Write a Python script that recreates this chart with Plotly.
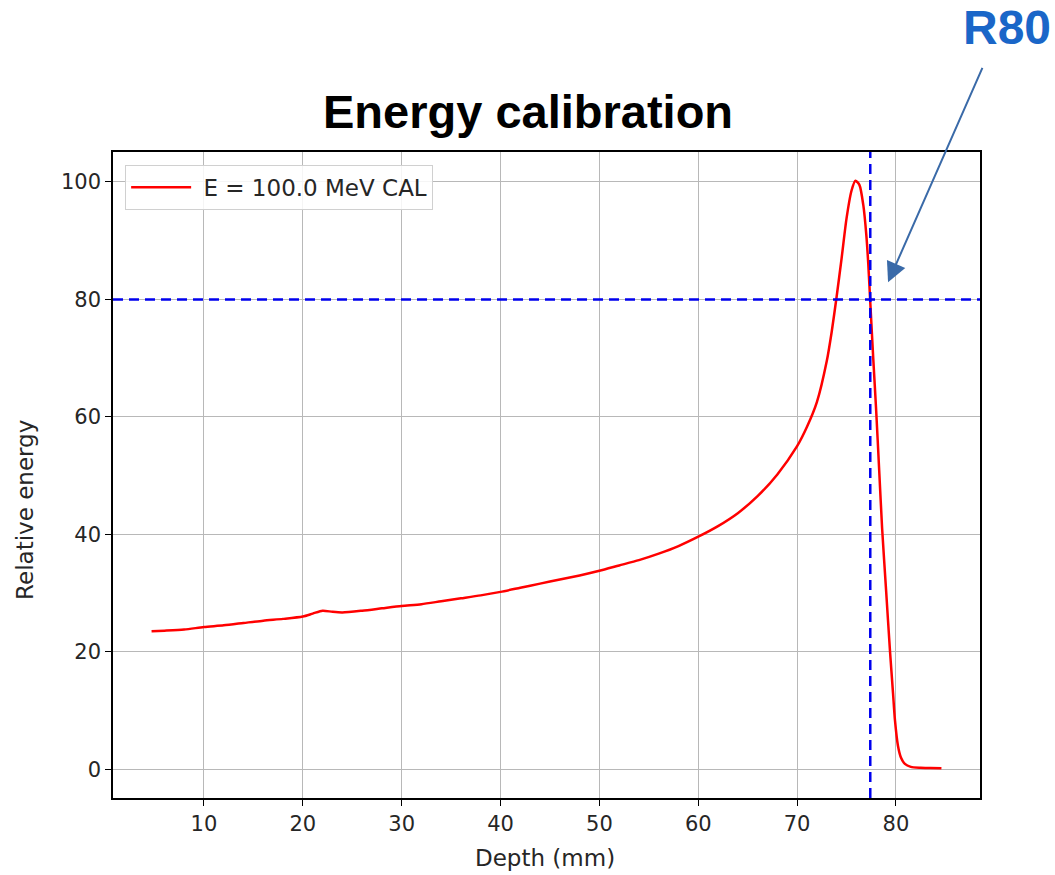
import plotly.graph_objects as go

# Depth-dose curve
depth_mm = [4.7, 6, 8, 10, 12, 14, 16, 18, 20, 21, 22, 23, 24, 26, 28, 30, 32, 34, 36, 38,
            40, 42, 44, 46, 48, 50, 52, 54, 56, 58, 60, 62, 64, 66, 68, 70, 71, 72, 73,
            73.5, 74, 74.5, 75, 75.5, 75.9, 76.3, 76.7, 77.0, 77.2, 77.4, 77.7, 78.0, 78.3,
            78.6, 79.0, 79.4, 79.7, 79.9, 80.2, 80.5, 80.9, 81.5, 82.5, 83.5, 84.6]
rel_energy = [23.5, 23.6, 23.8, 24.2, 24.5, 24.9, 25.3, 25.6, 26.0, 26.5, 27.0, 26.8, 26.7,
              27.0, 27.4, 27.8, 28.1, 28.6, 29.1, 29.6, 30.2, 30.9, 31.6, 32.3, 33.0, 33.8,
              34.7, 35.6, 36.7, 38.0, 39.6, 41.4, 43.6, 46.5, 50.2, 55.0, 58.3, 62.5, 69.5,
              74.5, 80.5, 87.0, 93.8, 98.5, 100.2, 99.5, 96.0, 91.0, 86.0, 79.5, 70.0, 61.0,
              51.0, 41.0, 30.5, 20.0, 13.0, 8.3, 4.0, 2.0, 0.9, 0.4, 0.25, 0.2, 0.15]

series_name = "E = 100.0 MeV CAL"
r80_depth = 77.4
level_80 = 80

x_ticks = [10, 20, 30, 40, 50, 60, 70, 80]
y_ticks = [0, 20, 40, 60, 80, 100]

tick_font = dict(family="DejaVu Sans", size=21, color="#262626")

fig = go.Figure()
fig.add_trace(go.Scatter(x=depth_mm, y=rel_energy, mode="lines", name=" " + series_name,
                         line=dict(color="#ff0000", width=2.5, shape="spline", smoothing=0.7)))

fig.add_hline(y=level_80, line=dict(color="#0000ee", width=2.5, dash="10px,6px"))
fig.add_vline(x=r80_depth, line=dict(color="#0000ee", width=2.5, dash="10px,6px"))

axis_common = dict(showline=True, linecolor="black", linewidth=1.5, mirror=True,
                   ticks="outside", ticklen=6, tickcolor="black", tickwidth=1.2,
                   showgrid=True, gridcolor="#b8b8b8", gridwidth=1, zeroline=False,
                   tickfont=tick_font)

fig.update_xaxes(range=[0.8, 88.5], tickvals=x_ticks, **axis_common)
fig.update_yaxes(range=[-4.9, 105.1], tickvals=y_ticks, **axis_common)

fig.update_layout(
    width=1055, height=875,
    margin=dict(l=113, r=75, t=152, b=77),
    paper_bgcolor="white", plot_bgcolor="white",
    showlegend=True,
    legend=dict(x=0.014, y=0.98, xanchor="left", yanchor="top",
                bgcolor="rgba(255,255,255,0.85)", bordercolor="#d0d0d0", borderwidth=1,
                font=dict(family="DejaVu Sans", size=23, color="#262626"),
                itemwidth=60),
    annotations=[
        dict(text="<b>Energy calibration</b>", xref="paper", yref="paper",
             x=0.479, y=1.062, xanchor="center", yanchor="middle", showarrow=False,
             font=dict(family="Liberation Sans", size=47, color="black")),
        dict(text="<b>R80</b>", xref="paper", yref="paper",
             x=1.031, y=1.192, xanchor="center", yanchor="middle", showarrow=False,
             font=dict(family="Liberation Sans", size=48, color="#1a66c8")),
        dict(text="", x=79.2, y=82.9, xref="x", yref="y", ax=95, ay=-216,
             axref="pixel", ayref="pixel", showarrow=True, arrowhead=2,
             arrowsize=2.0, arrowwidth=2, arrowcolor="#3a6aa8"),
        dict(text="Depth (mm)", xref="paper", yref="paper", x=0.498, y=-0.093,
             xanchor="center", yanchor="middle", showarrow=False,
             font=dict(family="DejaVu Sans", size=23, color="#262626")),
        dict(text="Relative energy", xref="paper", yref="paper", x=-0.1015, y=0.446,
             xanchor="center", yanchor="middle", showarrow=False, textangle=-90,
             font=dict(family="DejaVu Sans", size=23, color="#262626")),
    ],
)

fig.write_html("out.html")
